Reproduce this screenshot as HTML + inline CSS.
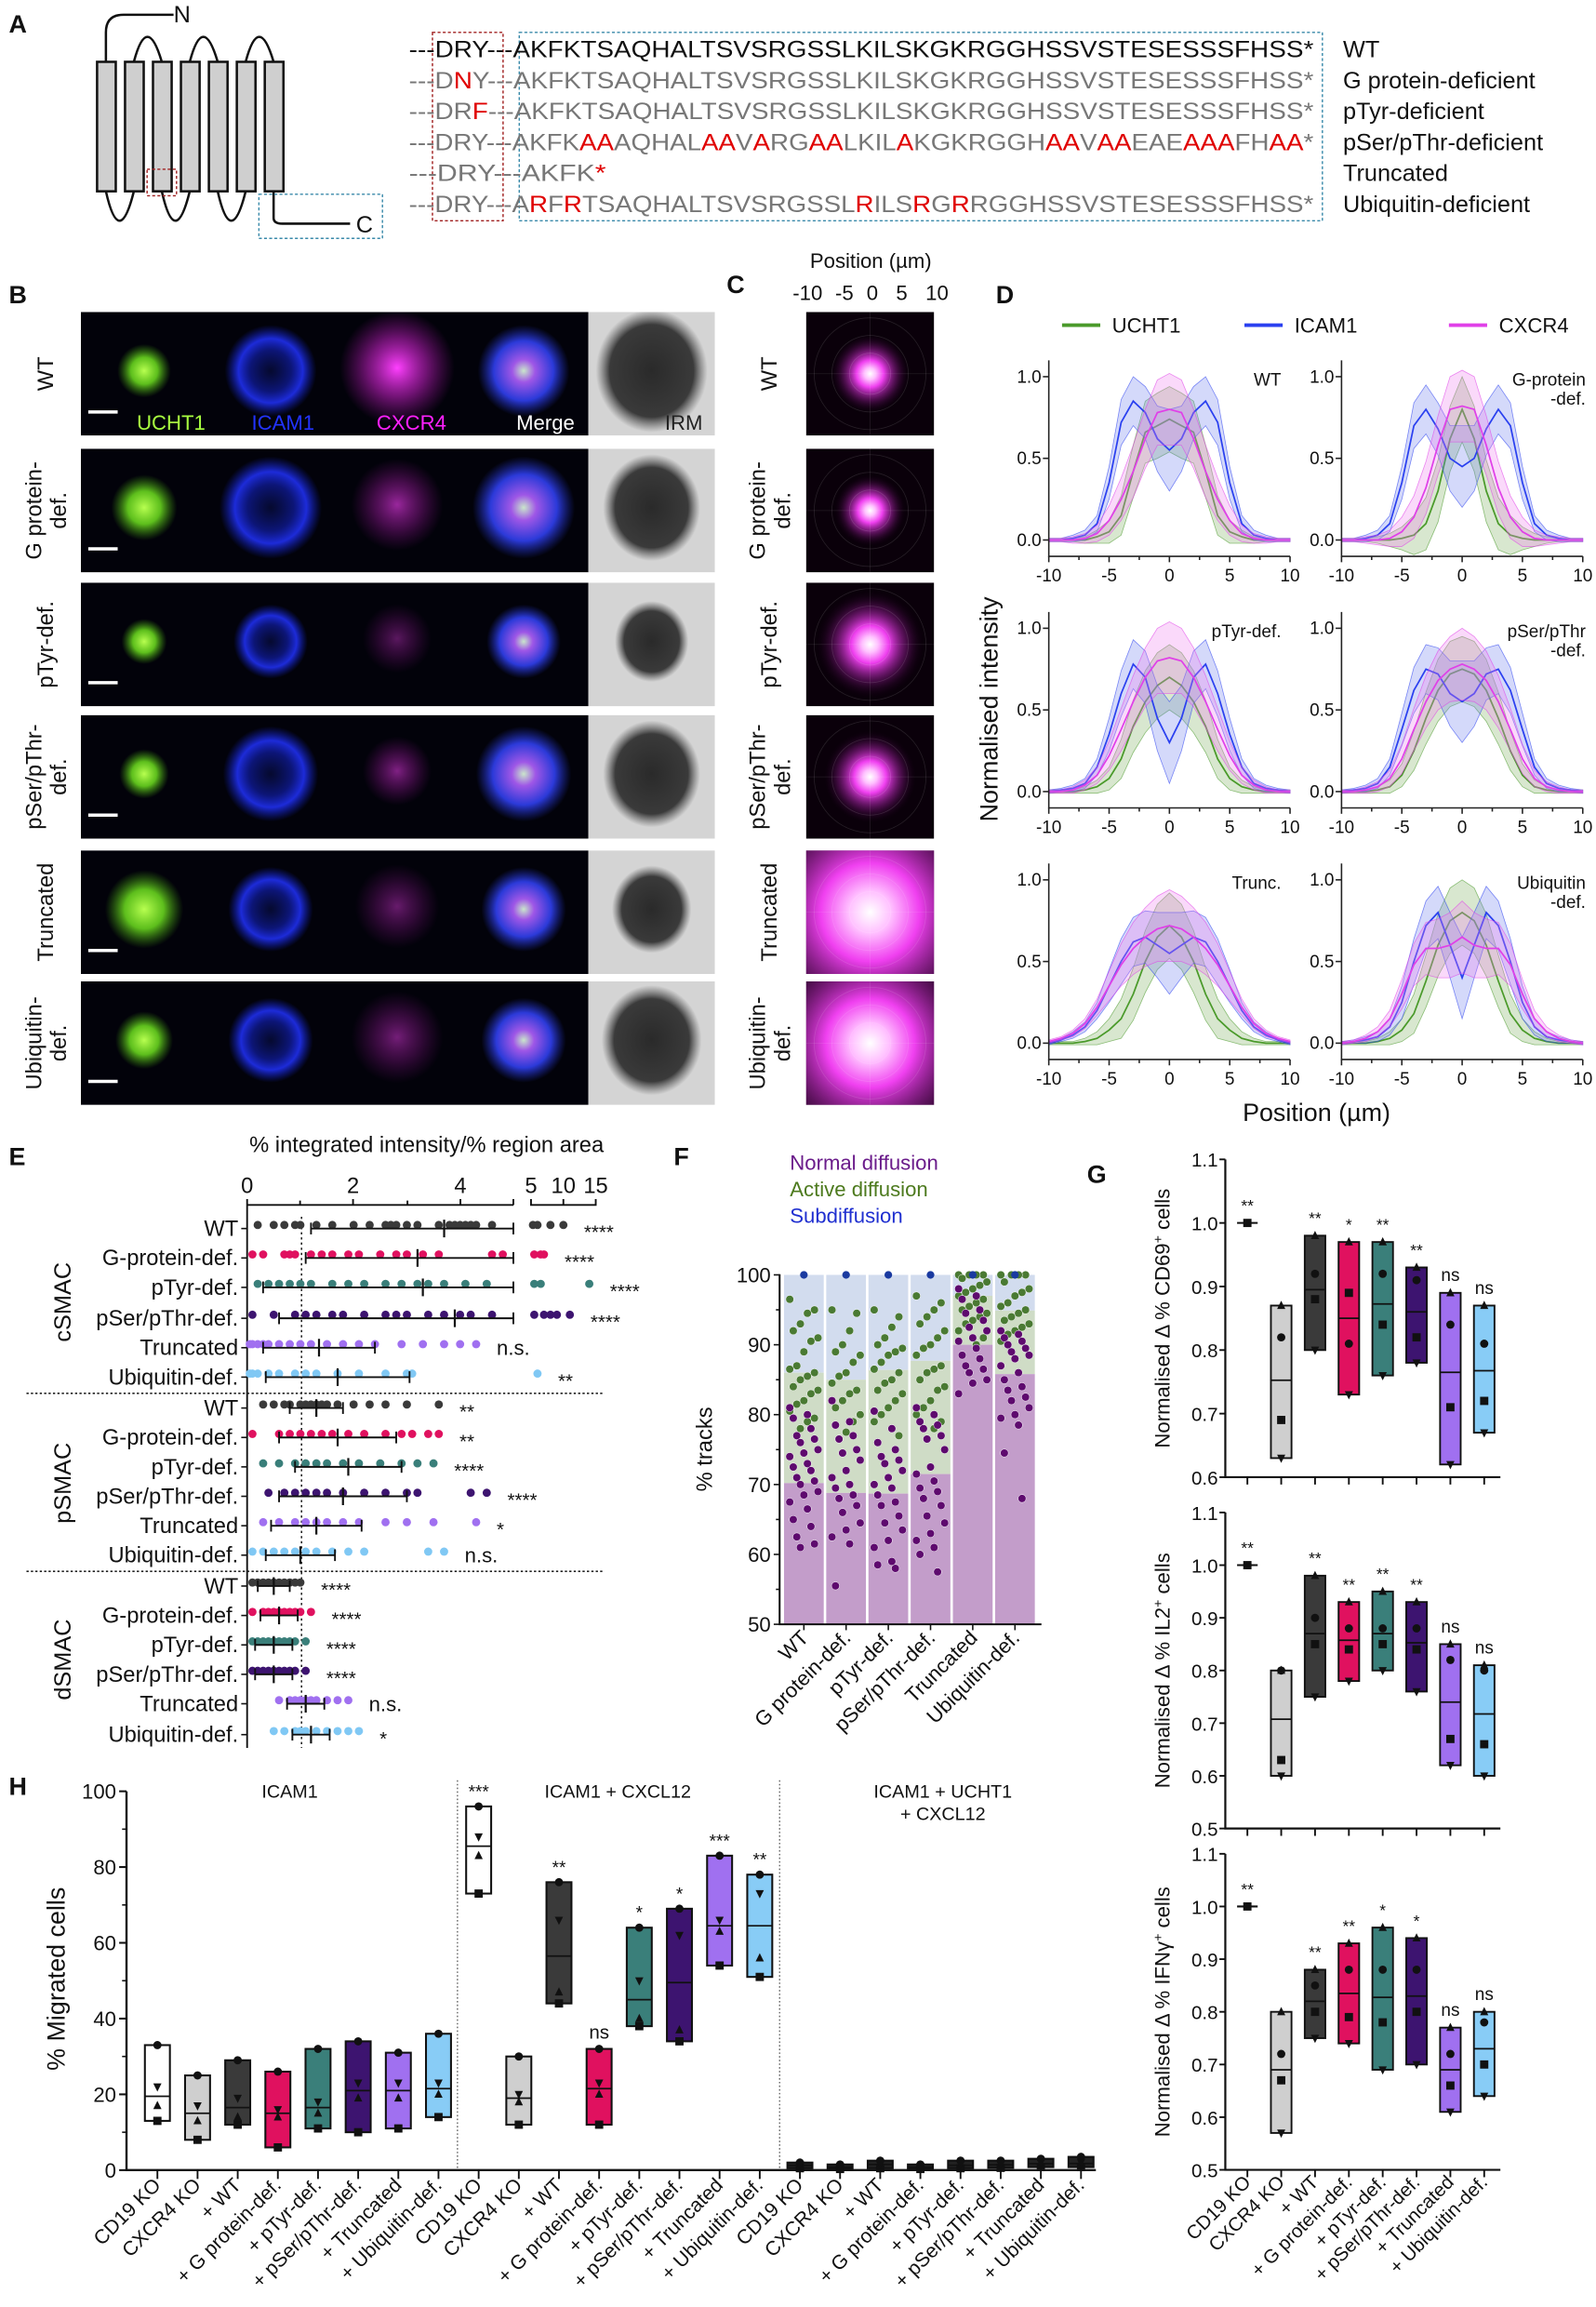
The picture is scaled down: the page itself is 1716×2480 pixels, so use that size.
<!DOCTYPE html>
<html><head><meta charset="utf-8">
<style>
html,body{margin:0;padding:0;background:#fff}
svg{display:block}
text{font-family:"Liberation Sans",Arial,sans-serif;fill:#111}
</style></head>
<body>
<svg id="fig" xmlns="http://www.w3.org/2000/svg" width="1716" height="2480" viewBox="0 0 1085 1568">
<defs>
<radialGradient id="gGreen"><stop offset="0" stop-color="#b8ff50"/><stop offset="0.5" stop-color="#6ee020" stop-opacity="0.85"/><stop offset="1" stop-color="#40a010" stop-opacity="0"/></radialGradient>
<radialGradient id="gBlue"><stop offset="0" stop-color="#1020a0" stop-opacity="0.25"/><stop offset="0.45" stop-color="#1525d0" stop-opacity="0.55"/><stop offset="0.7" stop-color="#2030f0" stop-opacity="0.9"/><stop offset="1" stop-color="#1020c0" stop-opacity="0"/></radialGradient>
<radialGradient id="gMag"><stop offset="0" stop-color="#ff40ff"/><stop offset="0.5" stop-color="#c020c0" stop-opacity="0.6"/><stop offset="1" stop-color="#a010a0" stop-opacity="0"/></radialGradient>
<radialGradient id="gMerge"><stop offset="0" stop-color="#e0ffe0"/><stop offset="0.25" stop-color="#b060ff"/><stop offset="0.65" stop-color="#3040f0"/><stop offset="1" stop-color="#2030c0" stop-opacity="0"/></radialGradient>
<radialGradient id="gIRM"><stop offset="0" stop-color="#2a2a2a"/><stop offset="0.75" stop-color="#3a3a3a"/><stop offset="1" stop-color="#555" stop-opacity="0"/></radialGradient>
<radialGradient id="gProf"><stop offset="0" stop-color="#ffffff"/><stop offset="0.15" stop-color="#ffc0ff"/><stop offset="0.35" stop-color="#f040f0"/><stop offset="0.7" stop-color="#801880" stop-opacity="0.5"/><stop offset="1" stop-color="#200020" stop-opacity="0"/></radialGradient>
</defs>

<g>
<text x="6" y="22" font-size="17" font-weight="bold">A</text>
<g fill="#cfcfcf" stroke="#111" stroke-width="1.6">
<path d="M72 42 V22 Q72 10 84 10 H118" fill="none"/>
<path d="M91 42 Q100 8 110 42 M129 42 Q138 8 148 42 M167 42 Q176 8 186 42" fill="none"/>
<path d="M72 130 Q81 170 91 130 M110 130 Q119 170 129 130 M148 130 Q157 170 167 130" fill="none"/>
<path d="M186 130 V148 Q186 152 192 152 H238" fill="none"/>
<rect x="66" y="42" width="12.7" height="88"/><rect x="85" y="42" width="12.7" height="88"/><rect x="104" y="42" width="12.7" height="88"/><rect x="123" y="42" width="12.7" height="88"/><rect x="142" y="42" width="12.7" height="88"/><rect x="161" y="42" width="12.7" height="88"/><rect x="180" y="42" width="12.7" height="88"/>
</g>
<text x="118" y="15" font-size="16">N</text>
<text x="242" y="158" font-size="16">C</text>
<rect x="100" y="115" width="20" height="18" fill="none" stroke="#a02020" stroke-dasharray="2,1.5" stroke-width="0.9"/>
<rect x="176" y="132" width="84" height="30" fill="none" stroke="#3a8aaa" stroke-dasharray="2,1.5" stroke-width="0.9"/>
<rect x="294" y="22" width="48" height="128" fill="none" stroke="#a02020" stroke-dasharray="2,1.5" stroke-width="0.9"/>
<rect x="353" y="22" width="546" height="128" fill="none" stroke="#3a8aaa" stroke-dasharray="2,1.5" stroke-width="0.9"/>
<g font-size="16">
<text x="278" y="39" textLength="615" lengthAdjust="spacingAndGlyphs">---DRY---AKFKTSAQHALTSVSRGSSLKILSKGKRGGHSSVSTESESSSFHSS*</text>
<text x="278" y="60" textLength="615" lengthAdjust="spacingAndGlyphs" style="fill:#777">---D<tspan style="fill:#e00000">N</tspan>Y---AKFKTSAQHALTSVSRGSSLKILSKGKRGGHSSVSTESESSSFHSS*</text>
<text x="278" y="81" textLength="615" lengthAdjust="spacingAndGlyphs" style="fill:#777">---DR<tspan style="fill:#e00000">F</tspan>---AKFKTSAQHALTSVSRGSSLKILSKGKRGGHSSVSTESESSSFHSS*</text>
<text x="278" y="102" textLength="615" lengthAdjust="spacingAndGlyphs" style="fill:#777">---DRY---AKFK<tspan style="fill:#e00000">AA</tspan>AQHAL<tspan style="fill:#e00000">AA</tspan>V<tspan style="fill:#e00000">A</tspan>RG<tspan style="fill:#e00000">AA</tspan>LKIL<tspan style="fill:#e00000">A</tspan>KGKRGGH<tspan style="fill:#e00000">AA</tspan>V<tspan style="fill:#e00000">AA</tspan>EAE<tspan style="fill:#e00000">AAA</tspan>FH<tspan style="fill:#e00000">AA</tspan>*</text>
<text x="278" y="123" textLength="134" lengthAdjust="spacingAndGlyphs" style="fill:#777">---DRY---AKFK<tspan style="fill:#e00000">*</tspan></text>
<text x="278" y="144" textLength="615" lengthAdjust="spacingAndGlyphs" style="fill:#777">---DRY---A<tspan style="fill:#e00000">R</tspan>F<tspan style="fill:#e00000">R</tspan>TSAQHALTSVSRGSSL<tspan style="fill:#e00000">R</tspan>ILS<tspan style="fill:#e00000">R</tspan>G<tspan style="fill:#e00000">R</tspan>RGGHSSVSTESESSSFHSS*</text>
</g>
<g font-size="16">
<text x="913" y="39">WT</text><text x="913" y="60">G protein-deficient</text><text x="913" y="81">pTyr-deficient</text><text x="913" y="102">pSer/pThr-deficient</text><text x="913" y="123">Truncated</text><text x="913" y="144">Ubiquitin-deficient</text>
</g>
</g>

<text x="6" y="206" font-size="17" font-weight="bold">B</text>
<text x="494" y="199" font-size="17" font-weight="bold">C</text>
<text x="677" y="206" font-size="17" font-weight="bold">D</text>
<text x="6" y="792" font-size="17" font-weight="bold">E</text>
<text x="458" y="792" font-size="17" font-weight="bold">F</text>
<text x="739" y="804" font-size="17" font-weight="bold">G</text>
<text x="6" y="1220" font-size="17" font-weight="bold">H</text>
</svg>

<script>
const NS='http://www.w3.org/2000/svg';
const svg=document.getElementById('fig');
const defs=svg.querySelector('defs');
function mk(tag,at,par){const e=document.createElementNS(NS,tag);for(const k in at)e.setAttribute(k,at[k]);(par||svg).appendChild(e);return e;}
function tx(s,x,y,at,par){const e=mk('text',Object.assign({x:x,y:y},at||{}),par);e.textContent=s;return e;}

/* ---------- Panel B & C ---------- */
const rowTops=[212,305,396,486,578,667];
const rowNames=[["WT"],["G protein-","def."],["pTyr-def."],["pSer/pThr-","def."],["Truncated"],["Ubiquitin-","def."]];
const greenR=[13,16,11,12,19,14], blueR=[26,29,21,27,24,24], magR=[30,24,18,18,22,24], magO=[1,.6,.35,.5,.4,.45], irmR=[38,33,25,33,27,34], profR=[11,10,15,13,40,36];
const gB=mk('g',{});


rowTops.forEach((t,r)=>{
  const cy=t+42;
  const cpB=mk('clipPath',{id:'clipB'+r},defs);
  mk('rect',{x:55,y:t,width:431,height:84},cpB);
  const cpC=mk('clipPath',{id:'clipC'+r},defs);
  mk('rect',{x:548,y:t,width:87,height:84},cpC);
  const row=mk('g',{'clip-path':`url(#clipB${r})`},gB);
  const bg=mk('rect',{x:55,y:t,width:345,height:84,fill:'#02020a'},row);
  
  
  mk('circle',{cx:98,cy:cy-2,r:greenR[r]*1.4,fill:'url(#gGreen)'},row);
  mk('circle',{cx:184,cy:cy-2,r:blueR[r]*1.2,fill:'url(#gBlue)'},row);
  mk('circle',{cx:270,cy:cy-4,r:magR[r]*1.3,fill:'url(#gMag)',opacity:magO[r]},row);
  mk('circle',{cx:356,cy:cy-2,r:blueR[r]*1.2,fill:'url(#gMerge)',opacity:0.9},row);
  const irm=mk('rect',{x:400,y:t,width:86,height:84,fill:'#d4d4d4'},row);
  
  
  mk('ellipse',{cx:443,cy:cy-2,rx:irmR[r],ry:irmR[r]*1.1,fill:'url(#gIRM)'},row);
  mk('line',{x1:60,x2:80,y1:t+68,y2:t+68,stroke:'#fff','stroke-width':2.2},row);
  const lab=rowNames[r];
  lab.forEach((s,k)=>{
    const cx=lab.length===1?36:28+k*17;
    const e=tx(s,cx,cy,{'font-size':15,'text-anchor':'middle',transform:`rotate(-90 ${cx} ${cy})`});
    
    
    const cx2=lab.length===1?528:520+k*17;
    const e2=tx(s,cx2,cy,{'font-size':15,'text-anchor':'middle',transform:`rotate(-90 ${cx2} ${cy})`});
    
    
  });
  const cg=mk('g',{'clip-path':`url(#clipC${r})`});
  const cb=mk('rect',{x:548,y:t,width:87,height:84,fill:'#0a000a'},cg);
  
  
  mk('circle',{cx:591.5,cy:cy,r:profR[r]*2.4,fill:'url(#gProf)'},cg);
  [14,26,38].forEach(rr=>mk('circle',{cx:591.5,cy:cy,r:rr,fill:'none',stroke:'#ffffff','stroke-opacity':0.12,'stroke-width':0.5},cg));
  mk('line',{x1:591.5,x2:591.5,y1:t,y2:t+84,stroke:'#fff','stroke-opacity':0.1,'stroke-width':0.5},cg);
  mk('line',{x1:548,x2:635,y1:cy,y2:cy,stroke:'#fff','stroke-opacity':0.1,'stroke-width':0.5},cg);
});
[['UCHT1',93,'#a8ff40'],['ICAM1',171,'#2233ff'],['CXCR4',256,'#ff20ff'],['Merge',351,'#ffffff'],['IRM',452,'#222']].forEach(a=>{
  const e=tx(a[0],a[1],292,{'font-size':14});e.style.fill=a[2];
  
  
});
const cPos=tx('Position (µm)',592,182,{'font-size':14,'text-anchor':'middle'});


[['-10',549],['-5',574],['0',593],['5',613],['10',637]].forEach(a=>{
  const e=tx(a[0],a[1],204,{'font-size':14,'text-anchor':'middle'});
  
  
});

/* ---------- Panel D ---------- */
const dPos=[-10,-9,-8,-7,-6,-5,-4,-3,-2,-1,0,1,2,3,4,5,6,7,8,9,10];
const dTitles=[["WT"],["G-protein","-def."],["pTyr-def."],["pSer/pThr","-def."],["Trunc."],["Ubiquitin","-def."]];
const wtU=[0,0,0,0,0.02,0.05,0.15,0.42,0.66,0.7,0.74,0.7,0.66,0.42,0.15,0.05,0.02,0,0,0,0];
const wtI=[0,0,0.01,0.03,0.1,0.35,0.72,0.85,0.78,0.62,0.55,0.62,0.78,0.85,0.72,0.35,0.1,0.03,0.01,0,0];
const wtC=[0,0,0,0.01,0.04,0.12,0.25,0.42,0.62,0.78,0.8,0.78,0.62,0.42,0.25,0.12,0.04,0.01,0,0,0];
const gpU=[0,0,0,0,0,0.01,0.03,0.1,0.3,0.62,0.8,0.62,0.3,0.1,0.03,0.01,0,0,0,0,0];
const gpI=[0,0,0.01,0.03,0.1,0.35,0.7,0.8,0.68,0.5,0.45,0.5,0.68,0.8,0.7,0.35,0.1,0.03,0.01,0,0];
const gpC=[0,0,0,0,0.01,0.05,0.14,0.32,0.58,0.8,0.82,0.8,0.58,0.32,0.14,0.05,0.01,0,0,0,0];
const ptU=[0,0,0,0.01,0.03,0.08,0.2,0.4,0.55,0.65,0.7,0.65,0.55,0.4,0.2,0.08,0.03,0.01,0,0,0];
const ptI=[0,0.01,0.02,0.05,0.15,0.35,0.6,0.78,0.7,0.45,0.3,0.45,0.7,0.78,0.6,0.35,0.15,0.05,0.02,0.01,0];
const ptC=[0,0,0.01,0.04,0.1,0.22,0.38,0.55,0.7,0.8,0.82,0.8,0.7,0.55,0.38,0.22,0.1,0.04,0.01,0,0];
const psU=[0,0,0,0.01,0.03,0.1,0.25,0.45,0.62,0.72,0.75,0.72,0.62,0.45,0.25,0.1,0.03,0.01,0,0,0];
const psI=[0,0.01,0.02,0.05,0.15,0.38,0.62,0.75,0.72,0.6,0.55,0.6,0.72,0.75,0.62,0.38,0.15,0.05,0.02,0.01,0];
const psC=[0,0,0.01,0.03,0.08,0.2,0.38,0.55,0.68,0.75,0.78,0.75,0.68,0.55,0.38,0.2,0.08,0.03,0.01,0,0];
const trU=[0,0,0,0.01,0.03,0.08,0.15,0.3,0.5,0.65,0.72,0.65,0.5,0.3,0.15,0.08,0.03,0.01,0,0,0];
const trI=[0,0.02,0.05,0.1,0.2,0.35,0.5,0.62,0.65,0.6,0.55,0.6,0.65,0.62,0.5,0.35,0.2,0.1,0.05,0.02,0];
const trC=[0.01,0.03,0.06,0.12,0.22,0.35,0.48,0.58,0.65,0.7,0.72,0.7,0.65,0.58,0.48,0.35,0.22,0.12,0.06,0.03,0.01];
const ubU=[0,0,0,0.01,0.03,0.08,0.18,0.38,0.6,0.75,0.8,0.75,0.6,0.38,0.18,0.08,0.03,0.01,0,0,0];
const ubI=[0,0.01,0.02,0.04,0.1,0.25,0.5,0.72,0.8,0.6,0.4,0.6,0.8,0.72,0.5,0.25,0.1,0.04,0.02,0.01,0];
const ubC=[0,0.01,0.03,0.07,0.15,0.3,0.48,0.58,0.58,0.6,0.65,0.6,0.58,0.58,0.48,0.3,0.15,0.07,0.03,0.01,0];
const sdU=[0.01,0.01,0.01,0.02,0.04,0.07,0.12,0.16,0.19,0.2,0.2,0.2,0.19,0.16,0.12,0.07,0.04,0.02,0.01,0.01,0.01];
const sdI=[0.01,0.01,0.02,0.03,0.05,0.1,0.14,0.15,0.16,0.2,0.25,0.2,0.16,0.15,0.14,0.1,0.05,0.03,0.02,0.01,0.01];
const sdC=[0.01,0.01,0.02,0.03,0.05,0.09,0.13,0.16,0.18,0.2,0.22,0.2,0.18,0.16,0.13,0.09,0.05,0.03,0.02,0.01,0.01];
const dPanels=[[wtU,wtI,wtC],[gpU,gpI,gpC],[ptU,ptI,ptC],[psU,psI,psC],[trU,trI,trC],[ubU,ubI,ubC]];
const dCols=['#4a9a2a','#2a40f0','#e040e8'], dFill=['#7fb060','#7080f0','#f080f0'], dSd=[sdU,sdI,sdC];
const dXL=[713,912], dXW=164, dY0=[367,538,709];
dPanels.forEach((ser,p)=>{
  const col=p%2,row=Math.floor(p/2);
  const X=v=>dXL[col]+(v+10)/20*dXW;
  const Y=v=>dY0[row]-v*111;
  const g=mk('g',{});
  
  
  ser.forEach((arr,s)=>{
    const up=dPos.map((x,i)=>`${X(x).toFixed(1)},${Y(arr[i]+dSd[s][i]).toFixed(1)}`);
    const lo=dPos.map((x,i)=>`${X(x).toFixed(1)},${Y(arr[i]-dSd[s][i]).toFixed(1)}`).reverse();
    const band=mk('polygon',{points:up.concat(lo).join(' '),fill:dFill[s],'fill-opacity':0.3,stroke:dCols[s],'stroke-width':0.5,'stroke-opacity':0.6},g);
    
    
    const ln=mk('polyline',{points:dPos.map((x,i)=>`${X(x).toFixed(1)},${Y(arr[i]).toFixed(1)}`).join(' '),fill:'none',stroke:dCols[s],'stroke-width':1.1},g);
    
    
  });
  mk('path',{d:`M${dXL[col]} ${Y(1.1)} V${Y(-0.1)} H${dXL[col]+dXW}`,fill:'none',stroke:'#222','stroke-width':1},g);
  [0,0.5,1].forEach(v=>{mk('line',{x1:dXL[col]-4,x2:dXL[col],y1:Y(v),y2:Y(v),stroke:'#222'},g);
    const t=tx(v.toFixed(1),dXL[col]-5,Y(v)+4,{'font-size':12,'text-anchor':'end'},g);
    
    });
  for(let v=-10;v<=10;v+=2.5){mk('line',{x1:X(v),x2:X(v),y1:Y(-0.1),y2:Y(-0.1)+(v%5===0?4:2.5),stroke:'#222'},g);}
  [-10,-5,0,5,10].forEach(v=>{const t=tx(String(v),X(v),Y(-0.1)+17,{'font-size':12,'text-anchor':'middle'},g);
    
    });
  dTitles[p].forEach((s,k)=>{const t=tx(s,dXL[col]+(col?166:158),Y(1)+6+k*13,{'font-size':12,'text-anchor':'end'},g);
    
    });
});
[['UCHT1',722,'#4a9a2a'],['ICAM1',846,'#2a40f0'],['CXCR4',985,'#e040e8']].forEach(a=>{
  const l=mk('line',{x1:a[1],x2:a[1]+26,y1:221,y2:221,stroke:a[2],'stroke-width':2.5});
  
  
  const t=tx(a[0],a[1]+34,226,{'font-size':14});
  
  
});
const dyT=tx('Normalised intensity',678,482,{'font-size':17,'text-anchor':'middle',transform:'rotate(-90 678 482)'});


const dxT=tx('Position (µm)',895,762,{'font-size':17,'text-anchor':'middle'});



/* ---------- Panel E ---------- */
const eCats=['WT','G-protein-def.','pTyr-def.','pSer/pThr-def.','Truncated','Ubiquitin-def.'];
const eColors=['#3a3a3a','#e0115f','#3a7f7a','#3d1470','#a070f0','#80c8f4'];
const eC_WT=[0.2,0.5,0.7,0.9,1.0,1.3,1.6,2.0,2.3,2.6,2.7,2.8,3.0,3.2,3.6,3.8,3.9,4.0,4.1,4.2,4.3,4.6,5.3,6,8,10];
const eC_G=[0.1,0.3,0.7,0.8,0.9,1.2,1.4,1.6,1.9,2.1,2.5,2.8,3.0,3.3,3.6,4.6,4.8,5.5,6.5,7];
const eC_T=[0.2,0.4,0.6,0.8,1.0,1.2,1.6,1.9,2.2,2.6,2.9,3.2,3.4,3.7,4.1,4.5,5.5,6.5,14];
const eC_S=[0.1,0.5,0.9,1.1,1.3,1.6,1.8,2.2,2.6,2.8,3.0,3.4,3.7,4.0,4.2,4.6,5.5,7,8,9,11];
const eC_R=[0.05,0.1,0.2,0.3,0.4,0.6,0.8,1.0,1.2,1.5,1.8,2.1,2.4,2.9,3.3,3.7,4.0,4.3];
const eC_U=[0.05,0.1,0.2,0.4,0.6,0.9,1.1,1.3,1.7,2.1,2.6,3.0,3.1,6];
const eP_WT=[0.3,0.5,0.7,0.8,1.0,1.1,1.2,1.3,1.4,1.5,1.7,2.0,2.3,2.6,3.0,3.6];
const eP_G=[0.1,0.6,0.8,1.0,1.2,1.4,1.6,1.9,2.2,2.6,2.9,3.1,3.4,3.6];
const eP_T=[0.3,0.6,0.9,1.1,1.3,1.5,1.8,2.1,2.5,2.9,3.2,3.5];
const eP_S=[0.4,0.7,0.9,1.1,1.3,1.5,1.8,2.2,2.6,3.0,3.2,4.2,4.5];
const eP_R=[0.3,0.6,0.9,1.1,1.3,1.5,1.8,2.1,2.6,3.0,3.5,4.3];
const eP_U=[0.1,0.3,0.5,0.7,0.9,1.1,1.3,1.6,1.9,2.2,3.4,3.7];
const eD_WT=[0.1,0.2,0.3,0.4,0.5,0.6,0.7,0.8,0.9,1.0];
const eD_G=[0.1,0.3,0.4,0.5,0.6,0.7,0.8,0.9,1.0,1.2];
const eD_T=[0.1,0.2,0.3,0.4,0.5,0.6,0.7,0.8,0.9,1.1];
const eD_S=[0.1,0.2,0.3,0.4,0.5,0.6,0.7,0.8,0.9,1.1];
const eD_R=[0.6,0.8,0.9,1.0,1.1,1.2,1.3,1.5,1.7,1.9];
const eD_U=[0.5,0.7,0.9,1.0,1.1,1.3,1.5,1.7,1.9,2.1];
const eRows=[eC_WT,eC_G,eC_T,eC_S,eC_R,eC_U,eP_WT,eP_G,eP_T,eP_S,eP_R,eP_U,eD_WT,eD_G,eD_T,eD_S,eD_R,eD_U];
const eMean=[3.7,3.2,3.3,3.9,1.35,1.7,1.3,1.7,1.9,1.8,1.3,1.0,0.5,0.6,0.5,0.5,1.1,1.2];
const eSd=[2.5,2.1,3.0,3.3,1.05,1.35,0.5,1.1,1.0,1.2,0.85,0.65,0.3,0.35,0.35,0.35,0.35,0.35];
const eStars=['****','****','****','****','n.s.','**','**','**','****','****','*','n.s.','****','****','****','****','n.s.','*'];
const eRowY=[835,855,875,896,916,936,957,977,997,1017,1037,1057,1078,1098,1118,1138,1158,1179];
const EX=v=>v<=5?168+v*36.2:361+(Math.min(v,15)-5)*4.4;
const gE=mk('g',{});


mk('path',{d:'M168 1188 V819 H349 M349 819 v-4 M168 819 v-4 M240 819 v-4 M313 819 v-4 M204 819 v-3 M277 819 v-3',fill:'none',stroke:'#111','stroke-width':1.2},gE);
mk('path',{d:'M361 815 V819 H405 V815 M383 819 v-4',fill:'none',stroke:'#111','stroke-width':1.2},gE);
[['0',168],['2',240],['4',313],['5',361],['10',383],['15',405]].forEach(a=>{
  const t=tx(a[0],a[1],811,{'font-size':15,'text-anchor':'middle'},gE);
  
  
});
const eT=tx('% integrated intensity/% region area',290,783,{'font-size':15,'text-anchor':'middle'},gE);


mk('line',{x1:205,x2:205,y1:827,y2:1188,stroke:'#222','stroke-dasharray':'1.5,2','stroke-width':1},gE);
[947,1068].forEach(y=>mk('line',{x1:18,x2:410,y1:y,y2:y,stroke:'#222','stroke-dasharray':'1.5,1.5','stroke-width':1},gE));
[['cSMAC',885],['pSMAC',1008],['dSMAC',1128]].forEach(a=>{
  const t=tx(a[0],48,a[1],{'font-size':16,'text-anchor':'middle',transform:`rotate(-90 48 ${a[1]})`},gE);
  
  
});
eRows.forEach((vals,r)=>{
  const y=eRowY[r],c=eColors[r%6];
  const lb=tx(eCats[r%6],162,y+5,{'font-size':15,'text-anchor':'end'},gE);
  
  
  mk('line',{x1:164,x2:168,y1:y,y2:y,stroke:'#111'},gE);
  vals.forEach((v,i)=>{
    const d=mk('circle',{cx:EX(v).toFixed(1),cy:(y+((i*5)%5-2)*1.2).toFixed(1),r:2.8,fill:c},gE);
    
    
  });
  const lo=Math.max(eMean[r]-eSd[r],0.05),hi=Math.min(eMean[r]+eSd[r],5);
  const bar=mk('line',{x1:EX(lo),x2:EX(hi),y1:y,y2:y,stroke:'#111','stroke-width':1.2},gE);
  
  
  [lo,hi].forEach(v=>mk('line',{x1:EX(v),x2:EX(v),y1:y-4,y2:y+4,stroke:'#111','stroke-width':1.2},gE));
  const mn=mk('line',{x1:EX(eMean[r]),x2:EX(eMean[r]),y1:y-6,y2:y+6,stroke:'#111','stroke-width':1.4},gE);
  
  
  const mx=Math.max(...vals);
  const st=tx(eStars[r],EX(mx)+14,y+(eStars[r]==='n.s.'?5:7),{'font-size':eStars[r]==='n.s.'?14:13},gE);
  
  
});

/* ---------- Panel F ---------- */
const fCats=['WT','G protein-def.','pTyr-def.','pSer/pThr-def.','Truncated','Ubiquitin-def.'];
const fNormalTop=[70.2,68.8,68.7,71.5,90,85.8];
const fActiveTop=[86,85,86.4,87.7,97,94.9];
const fN0=[81,80,79.5,78,77,76.5,76,75,74.5,74,73,72.5,72,71,70.5,70,69,68.5,67.5,66.5,65,64,62.5,61.5,61];
const fA0=[96.5,95,94.5,93,92,91,90.5,89,87,86.5,86,85.5,85,84,83.5,83,82,81.5,80.5,79.5,79,78];
const fN1=[82,79,78.5,77,76.5,75,74.5,73.5,72,71,70,69.5,68.5,68,67,66,64.5,63.5,62.5,61.5,55.5];
const fA1=[95,94.5,92,90,89,88.5,87.5,86,85.5,84.5,83.5,83,82,81,80,79,77.5,76.5];
const fN2=[80.5,78,76,75,74,73.5,73,72,71,70,69.5,68.5,67.5,67,65.5,64.5,63.5,62,61,59,58.5,58];
const fA2=[95,94,92.5,91,90,89.5,89,88.5,87.5,86.5,86,85,84.5,83.5,83,82,81,80,79,77];
const fN3=[81,80,79,78.5,78,77,76.5,75,72.5,71.5,70.5,69.5,69,68,67,65.5,64.5,63,62,61,60,57.5];
const fA3=[97,96,95,94,93,92,91,90,89.5,88.5,87,86.5,86,85,84,83.5,82,81,80,79,78];
const fN4=[98,97,96.5,95,94.5,93.5,92.5,92,91,90.5,89.5,88.5,88,87,86.5,86,85,84.5,83];
const fA4=[100,100,100,100,99.5,99,98.5,98,97.5,97,96.5,96,95.5,95,94.5,94,93.5,93,92,91,90];
const fN5=[92,91.5,91,90.5,90,89.5,89,88.5,88,87,86,85,84,83.5,82.5,82,81,80,79.5,78.5,74.5,68];
const fA5=[100,100,100,100,99,98,97.5,97,96,95.5,95,94.5,94,93.5,93,92.5,92,91.5,90.5,89.5];
const fNormal=[fN0,fN1,fN2,fN3,fN4,fN5], fActive=[fA0,fA1,fA2,fA3,fA4,fA5];
const fYTicks=[50,60,70,80,90,100];
const FY=v=>1104-(v-50)*4.75;
const FX=i=>546.5+i*28.7;
const gF=mk('g',{});


fCats.forEach((c,i)=>{
  const x0=FX(i)-13.5;
  const b1=mk('rect',{x:x0,y:FY(100),width:27,height:FY(fActiveTop[i])-FY(100),fill:'#d2dcee'},gF);
  
  
  const b2=mk('rect',{x:x0,y:FY(fActiveTop[i]),width:27,height:FY(fNormalTop[i])-FY(fActiveTop[i]),fill:'#cfdcc6'},gF);
  
  
  const b3=mk('rect',{x:x0,y:FY(fNormalTop[i]),width:27,height:FY(50)-FY(fNormalTop[i]),fill:'#c39dca'},gF);
  
  
});
fCats.forEach((c,i)=>{
  fActive[i].forEach((v,k)=>{
    const d=mk('circle',{cx:(FX(i)+((k*7)%9-4)*2.4).toFixed(1),cy:FY(v).toFixed(1),r:2.7,fill:'#4a7a33',stroke:'#fff','stroke-width':0.3},gF);
    
    
  });
  fNormal[i].forEach((v,k)=>{
    const d=mk('circle',{cx:(FX(i)+((k*5)%9-4)*2.4).toFixed(1),cy:FY(v).toFixed(1),r:2.7,fill:'#5e0a6e',stroke:'#fff','stroke-width':0.3},gF);
    
    
  });
  const bd=mk('circle',{cx:FX(i),cy:FY(100),r:2.6,fill:'#1a3aa0'},gF);
  
  
  mk('line',{x1:FX(i),x2:FX(i),y1:1104,y2:1108,stroke:'#111'},gF);
  const t=tx(c,FX(i)+4,1114,{'font-size':14,'text-anchor':'end',transform:`rotate(-45 ${FX(i)+4} 1114)`},gF);
  
  
});
mk('path',{d:'M530 866 V1104 H708',fill:'none',stroke:'#111','stroke-width':1.3},gF);
fYTicks.forEach(v=>{
  mk('line',{x1:526,x2:530,y1:FY(v),y2:FY(v),stroke:'#111'},gF);
  const t=tx(String(v),524,FY(v)+5,{'font-size':14,'text-anchor':'end'},gF);
  
  
  if(v<100)mk('line',{x1:527.5,x2:530,y1:FY(v+5),y2:FY(v+5),stroke:'#111'},gF);
});
const fy=tx('% tracks',484,985,{'font-size':15,'text-anchor':'middle',transform:'rotate(-90 484 985)'},gF);


[['Normal diffusion',795,'#6a1b8a'],['Active diffusion',813,'#4d7a1e'],['Subdiffusion',831,'#1f2fd0']].forEach(a=>{
  const t=tx(a[0],537,a[1],{'font-size':14});t.style.fill=a[2];
  
  
});

/* ---------- Shared ---------- */
const condLabels=['CD19 KO','CXCR4 KO','+ WT','+ G protein-def.','+ pTyr-def.','+ pSer/pThr-def.','+ Truncated','+ Ubiquitin-def.'];
const condColors=['#ffffff','#cfcfcf','#3a3a3a','#e0115f','#3a7f7a','#3d1470','#a070f0','#88ccf6'];
function marker(shape,x,y,par,fill){
  const s=2.8;let e;
  if(shape===0)e=mk('circle',{cx:x,cy:y,r:s,fill:fill},par);
  else if(shape===1)e=mk('rect',{x:x-s,y:y-s,width:2*s,height:2*s,fill:fill},par);
  else if(shape===2)e=mk('polygon',{points:`${x},${y-s-0.5} ${x-s},${y+s-0.5} ${x+s},${y+s-0.5}`,fill:fill},par);
  else e=mk('polygon',{points:`${x},${y+s+0.5} ${x-s},${y-s+0.5} ${x+s},${y-s+0.5}`,fill:fill},par);
  return e;
}

/* ---------- Panel G ---------- */
const gCD69=[[1,1,1,1],[0.87,0.63,0.69,0.82],[0.98,0.8,0.88,0.92],[0.97,0.73,0.89,0.81],[0.97,0.76,0.84,0.92],[0.93,0.78,0.82,0.91],[0.89,0.62,0.71,0.84],[0.87,0.67,0.72,0.81]];
const gIL2=[[1,1,1,1],[0.8,0.6,0.63,0.8],[0.98,0.75,0.85,0.9],[0.93,0.78,0.84,0.88],[0.95,0.8,0.85,0.88],[0.93,0.76,0.84,0.88],[0.85,0.62,0.67,0.82],[0.81,0.6,0.66,0.8]];
const gIFN=[[1,1,1,1],[0.8,0.57,0.67,0.72],[0.88,0.75,0.8,0.85],[0.93,0.74,0.79,0.88],[0.96,0.69,0.78,0.88],[0.94,0.7,0.8,0.88],[0.77,0.61,0.66,0.72],[0.8,0.64,0.7,0.78]];
const gStarsCD69=['**','','**','*','**','**','ns','ns'];
const gStarsIL2=['**','','**','**','**','**','ns','ns'];
const gStarsIFN=['**','','**','**','*','*','ns','ns'];
const gTicks1=[0.6,0.7,0.8,0.9,1.0,1.1];
const gTicks2=[0.5,0.6,0.7,0.8,0.9,1.0,1.1];
const gSub=[
  {data:gCD69,stars:gStarsCD69,top:788,k:432,lo:0.6,ticks:gTicks1,lab:'CD69'},
  {data:gIL2,stars:gStarsIL2,top:1028,k:358,lo:0.5,ticks:gTicks2,lab:'IL2'},
  {data:gIFN,stars:gStarsIFN,top:1260,k:358,lo:0.5,ticks:gTicks2,lab:'IFNγ'}];
const GX=i=>848+i*23;
gSub.forEach((sp,si)=>{
  const Y=v=>sp.top+(1.1-v)*sp.k;
  const g=mk('g',{});
  
  
  const yb=Y(sp.lo);
  mk('path',{d:`M833 ${sp.top} V${yb} H1020`,fill:'none',stroke:'#111','stroke-width':1.4},g);
  sp.ticks.forEach(v=>{mk('line',{x1:829,x2:833,y1:Y(v),y2:Y(v),stroke:'#111','stroke-width':1.2},g);
    const t=tx(v.toFixed(1),828,Y(v)+5,{'font-size':13,'text-anchor':'end'},g);
    
    });
  sp.data.forEach((vals,i)=>{
    const x=GX(i),mn=Math.min(...vals),mx=Math.max(...vals),mean=vals.reduce((a,b)=>a+b,0)/vals.length;
    mk('line',{x1:x,x2:x,y1:yb,y2:yb+5,stroke:'#111','stroke-width':1.2},g);
    if(mx-mn<0.005){
      const l=mk('line',{x1:x-7,x2:x+7,y1:Y(mean),y2:Y(mean),stroke:'#111','stroke-width':1.3},g);
      
      
      marker(1,x,Y(mean),g,'#111');
    } else {
      const b=mk('rect',{x:x-7,y:Y(mx),width:14,height:Y(mn)-Y(mx),fill:condColors[i],stroke:'#111','stroke-width':1.2},g);
      
      
      const m=mk('line',{x1:x-7,x2:x+7,y1:Y(mean),y2:Y(mean),stroke:'#111','stroke-width':1.1},g);
      
      
      vals.forEach((v,k)=>{const mm=marker(k===0?2:k===1?3:k===2?1:0,x,Y(v),g,'#111');
        
        });
    }
    if(sp.stars[i]){const st=tx(sp.stars[i],x,Y(mx)-8,{'font-size':sp.stars[i]==='ns'?12:11,'text-anchor':'middle'},g);
      
      }
  });
  const cy=(sp.top+yb)/2;
  const yl=mk('text',{x:795,y:cy,'font-size':14,'text-anchor':'middle',transform:`rotate(-90 795 ${cy})`},g);
  
  
  yl.appendChild(document.createTextNode('Normalised Δ % '+sp.lab));
  const sup=mk('tspan',{'baseline-shift':'super','font-size':9},yl);sup.textContent='+';
  const rest=mk('tspan',{'baseline-shift':'0'},yl);rest.textContent=' cells';
});
condLabels.forEach((c,i)=>{
  const x=GX(i)+3,y=1484;
  const t=tx(c,x,y,{'font-size':13,'text-anchor':'end',transform:`rotate(-45 ${x} ${y})`});
  
  
});

/* ---------- Panel H ---------- */
const hICAM=[[33,13,17,22],[25,8,13,17],[29,12,14,19],[26,6,14,16],[32,11,15,18],[34,10,19,23],[31,11,19,23],[36,14,20,23]];
const hCXCL=[[96,73,83,88],[30,12,18,20],[76,44,47,66],[32,12,20,23],[64,38,40,50],[69,34,37,62],[83,54,63,66],[78,51,56,73]];
const hUCHT=[[2,0.5,1,1.5],[1.5,0.3,0.6,1],[2.5,0.5,1.2,1.8],[1.5,0.3,0.6,1],[2.5,0.5,1,1.6],[2.5,0.6,1.1,1.7],[3,0.8,1.4,2],[3.5,0.8,1.5,2]];
const hStarsCXCL=['***','','**','ns','*','*','***','**'];
const hTicks=[0,20,40,60,80,100];
const HY=v=>1475-v*2.575;
const HX=i=>107+i*27.3;
const gH=mk('g',{});


mk('path',{d:`M86 ${HY(100)} V1475 H745`,fill:'none',stroke:'#111','stroke-width':1.5},gH);
hTicks.forEach(v=>{mk('line',{x1:81,x2:86,y1:HY(v),y2:HY(v),stroke:'#111','stroke-width':1.3},gH);
  if(v<100)mk('line',{x1:83,x2:86,y1:HY(v+10),y2:HY(v+10),stroke:'#111'},gH);
  const t=tx(String(v),79,HY(v)+5,{'font-size':14,'text-anchor':'end'},gH);
  
  });
[311,530].forEach(x=>mk('line',{x1:x,x2:x,y1:1210,y2:1475,stroke:'#555','stroke-dasharray':'1,1.5','stroke-width':0.8},gH));
const hy=tx('% Migrated cells',44,1345,{'font-size':17,'text-anchor':'middle',transform:'rotate(-90 44 1345)'},gH);


[['ICAM1',197,1222],['ICAM1 + CXCL12',420,1222],['ICAM1 + UCHT1',641,1222],['+ CXCL12',641,1237]].forEach(a=>{
  const t=tx(a[0],a[1],a[2],{'font-size':12.5,'text-anchor':'middle'},gH);
  
  });
[hICAM,hCXCL,hUCHT].forEach((grp,gi)=>{
  grp.forEach((vals,j)=>{
    const i=gi*8+j,x=HX(i);
    const s=vals.slice().sort((a,b)=>a-b),med=(s[1]+s[2])/2,mn=s[0],mx=s[3];
    mk('line',{x1:x,x2:x,y1:1475,y2:1481,stroke:'#111','stroke-width':1.2},gH);
    const b=mk('rect',{x:x-8.5,y:HY(mx),width:17,height:Math.max(HY(mn)-HY(mx),1),fill:gi===2?'#222':condColors[j],stroke:'#111','stroke-width':1.3},gH);
    
    
    const m=mk('line',{x1:x-8.5,x2:x+8.5,y1:HY(med),y2:HY(med),stroke:'#111','stroke-width':1.1},gH);
    
    
    vals.forEach((v,k)=>{const mm=marker(k===0?0:k===1?1:k===2?2:3,x,HY(v),gH,'#111');
      
      });
    if(gi===1&&hStarsCXCL[j]){const st=tx(hStarsCXCL[j],x,HY(mx)-(hStarsCXCL[j]==='ns'?7:6),{'font-size':hStarsCXCL[j]==='ns'?13:12,'text-anchor':'middle'},gH);
      
      }
    const lx=x+3,ly=1486;
    const t=tx(condLabels[j],lx,ly,{'font-size':13.5,'text-anchor':'end',transform:`rotate(-45 ${lx} ${ly})`},gH);
    
    
  });
});
</script>
</body></html>
